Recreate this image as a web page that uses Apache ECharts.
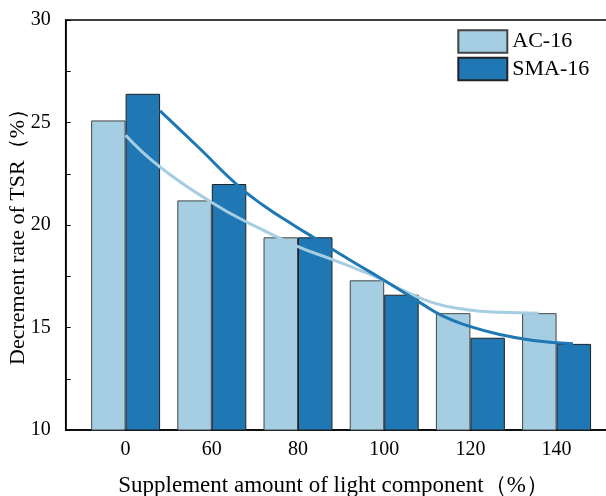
<!DOCTYPE html>
<html><head><meta charset="utf-8">
<script src="https://cdn.jsdelivr.net/npm/echarts@6/dist/echarts.min.js"></script>
<style>html,body{margin:0;padding:0;background:#fff}#c{width:606px;height:496px}</style>
</head><body><div id="c"></div>
<script>
const categories = ['0', '60', '80', '100', '120', '140'];
const acValues = [25.1, 21.2, 19.4, 17.3, 15.7, 15.7];
const smaValues = [26.4, 22.0, 19.4, 16.6, 14.5, 14.2];
// trend curves (x in category index units)
const acFitX = [0, 0.4, 1.0, 1.44, 2.0, 2.37, 2.72, 2.95, 3.2, 3.57, 3.96, 4.34, 4.79];
const acFitY = [24.38, 22.83, 21.1, 20.07, 18.95, 18.36, 17.79, 17.38, 16.85, 16.2, 15.87, 15.74, 15.70];
const smaFitX = [0.40, 0.86, 1.29, 1.6, 1.95, 2.2, 2.45, 2.84, 3.22, 3.42, 3.69, 3.96, 4.34, 4.73, 5.19];
const smaFitY = [25.57, 23.73, 21.97, 20.95, 19.99, 19.34, 18.68, 17.70, 16.73, 16.2, 15.54, 15.10, 14.66, 14.37, 14.21];
const yMin = 10, yMax = 30, yStep = 5;
const seriesNames = ['AC-16', 'SMA-16'];
const xTitle = 'Supplement amount of light component（%）';
const yTitle = 'Decrement rate of TSR（%）';

const FONT = "'Liberation Serif', 'Times New Roman', serif";
const LIGHT = '#a6cee3', DARK = '#1f78b4';
const idx = categories.map((c, i) => i);

const chart = echarts.init(document.getElementById('c'), null, {renderer: 'canvas'});
chart.setOption({
  animation: false,
  backgroundColor: '#fff',
  grid: {left: 65.7, top: 20, width: 550.8, height: 410, show: true, borderColor: '#000', borderWidth: 1.5,
         backgroundColor: 'transparent', containLabel: false, outerBoundsMode: 'none'},
  legend: {
    data: seriesNames, orient: 'vertical', left: 457.3, top: 29.3, padding: 0,
    itemWidth: 49, itemHeight: 22.5, itemGap: 3, icon: 'rect',
    textStyle: {fontFamily: FONT, fontSize: 22, color: '#000'}
  },
  xAxis: {
    type: 'value', min: -0.695, max: 5.695,
    axisLine: {show: true, onZero: false, lineStyle: {color: '#000', width: 1.5}},
    axisTick: {show: false},
    splitLine: {show: false},
    axisLabel: {customValues: idx, formatter: v => categories[Math.round(v)], fontFamily: FONT, fontSize: 20, color: '#000', margin: 10},
    name: xTitle, nameLocation: 'middle', nameGap: 44,
    nameTextStyle: {fontFamily: FONT, fontSize: 23, color: '#000', padding: [0, 15, 0, 0]}
  },
  yAxis: {
    type: 'value', min: yMin, max: yMax, interval: yStep,
    axisLine: {show: true, onZero: false, lineStyle: {color: '#000', width: 1.5}},
    axisTick: {show: true, inside: true, length: 5, lineStyle: {color: '#000', width: 1}},
    minorTick: {show: true, splitNumber: 2, length: 5, lineStyle: {color: '#000', width: 1}},
    splitLine: {show: false},
    axisLabel: {fontFamily: FONT, fontSize: 20, color: '#000', margin: 15},
    name: yTitle, nameLocation: 'middle', nameGap: 36, nameMoveOverlap: false,
    nameTextStyle: {fontFamily: FONT, fontSize: 22, color: '#000', padding: [0, 13, 0, 0]}
  },
  series: [
    {name: seriesNames[0], type: 'bar', barGap: '0%', barCategoryGap: '20%',
     data: acValues.map((v, i) => [i, v]),
     itemStyle: {color: LIGHT, borderColor: '#444', borderWidth: 1}},
    {name: seriesNames[1], type: 'bar', barGap: '0%', barCategoryGap: '20%',
     data: smaValues.map((v, i) => [i, v]),
     itemStyle: {color: DARK, borderColor: '#222', borderWidth: 1}},
    {name: 'AC-16 trend', type: 'line', smooth: true, symbol: 'none', z: 5,
     data: acFitX.map((x, i) => [x, acFitY[i]]),
     lineStyle: {color: LIGHT, width: 3}},
    {name: 'SMA-16 trend', type: 'line', smooth: true, symbol: 'none', z: 5,
     data: smaFitX.map((x, i) => [x, smaFitY[i]]),
     lineStyle: {color: DARK, width: 3}}
  ]
});
</script></body></html>
